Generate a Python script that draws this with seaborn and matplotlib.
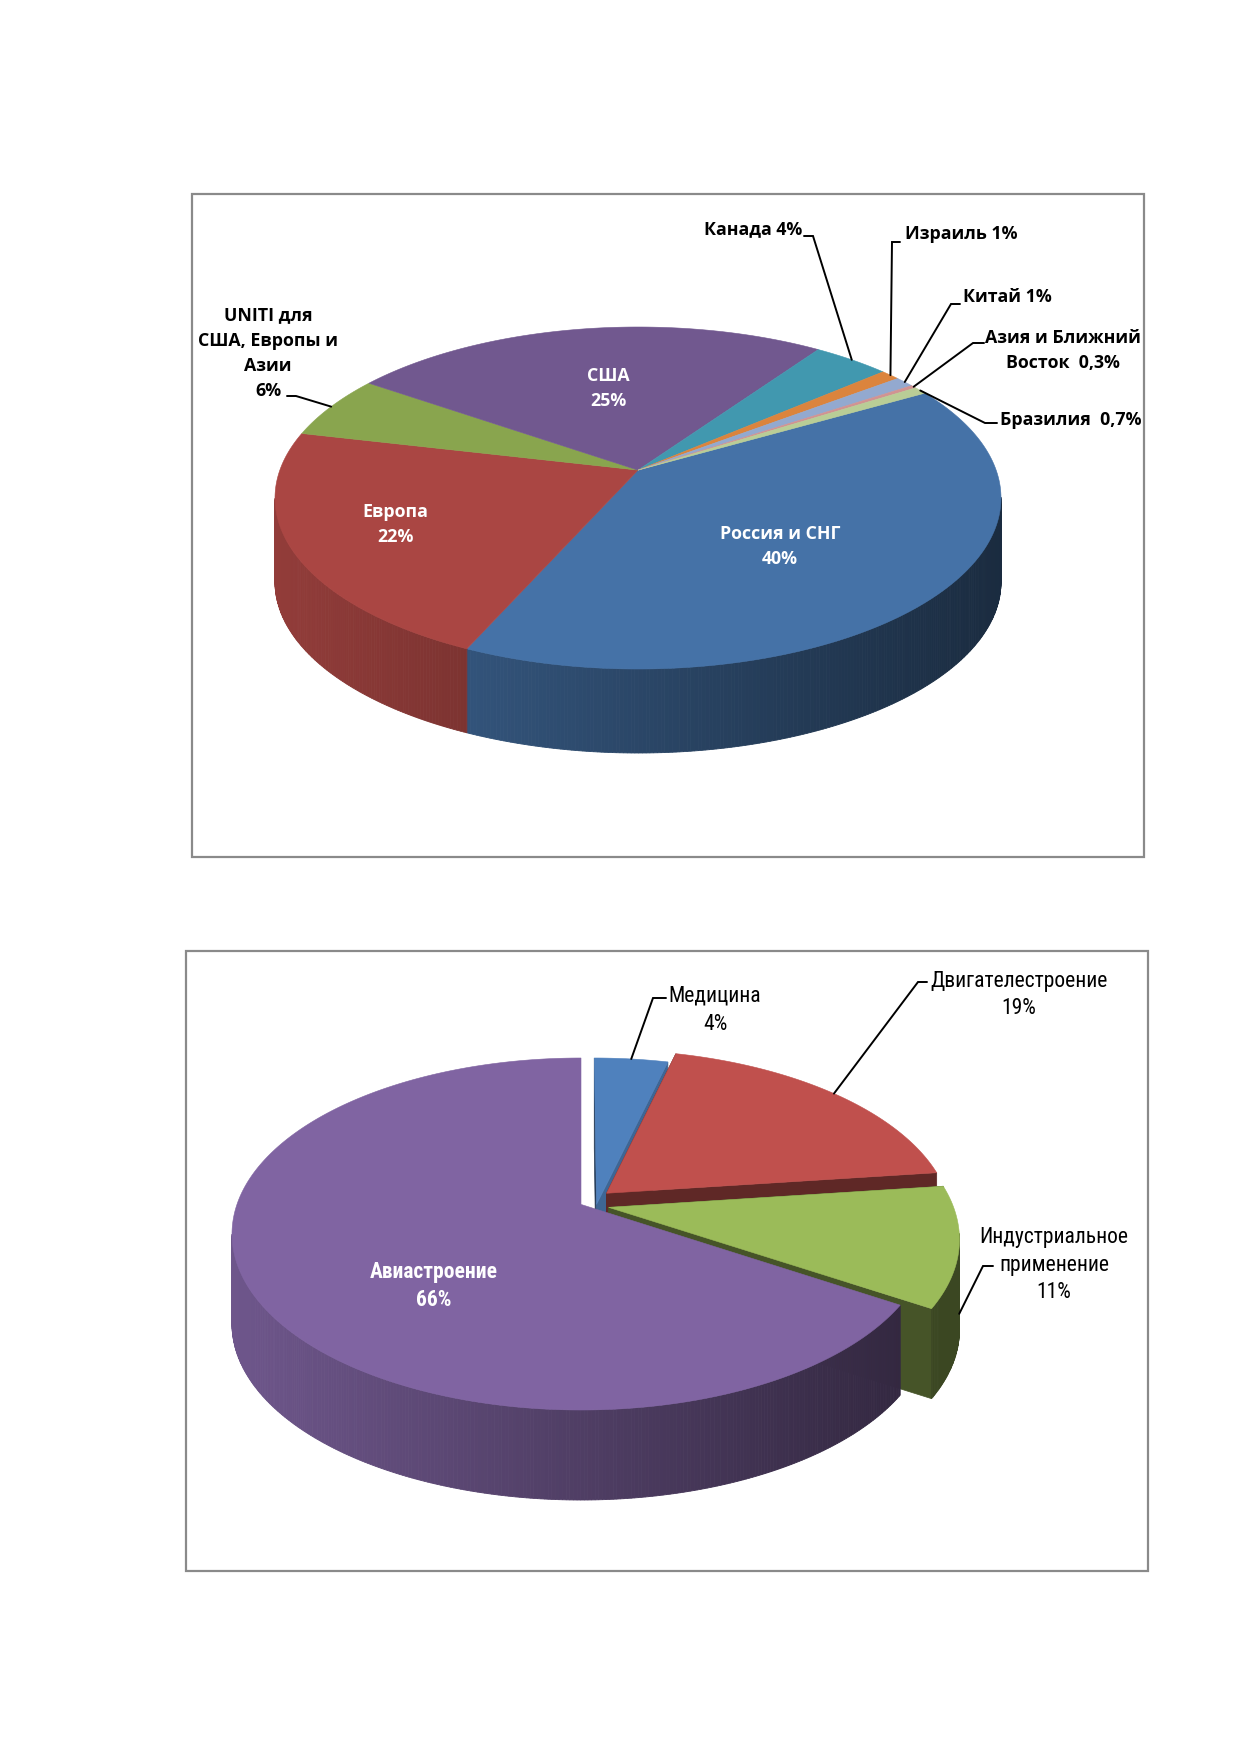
import numpy as np
import matplotlib
matplotlib.use("Agg")
import matplotlib.pyplot as plt
import matplotlib.colors as mcolors
from matplotlib.patches import Polygon, Rectangle
import seaborn as sns

sns.set_theme(style="white")
plt.rcParams['font.family'] = ['Open Sans', 'DejaVu Sans']

# --- chart 1: geography of sales ---
top_names = ["Россия и СНГ", "Европа", "UNITI для США, Европы и Азии", "США",
             "Канада", "Израиль", "Китай", "Азия и Ближний Восток", "Бразилия"]
top_values = [40, 22, 6, 25, 4, 1, 1, 0.3, 0.7]
top_labels = ["Россия и СНГ\n40%", "Европа\n22%", "UNITI для\nСША, Европы и\nАзии\n6%",
              "США\n25%", "Канада 4%", "Израиль 1%", "Китай 1%",
              "Азия и Ближний\nВосток  0,3%", "Бразилия  0,7%"]
top_colors = ["#4572A7", "#AA4643", "#89A54E", "#71588F", "#4198AF",
              "#DB843D", "#93A9CF", "#D19392", "#B9CD96"]

# --- chart 2: industries ---
bot_names = ["Медицина", "Двигателестроение", "Индустриальное применение", "Авиастроение"]
bot_values = [4, 19, 11, 66]
bot_labels = ["Медицина\n4%", "Двигателестроение\n19%",
              "Индустриальное\nприменение\n11%", "Авиастроение\n66%"]
bot_colors = ["#4F81BD", "#C0504D", "#9BBB59", "#8064A2"]
# how far each slice is pulled out (in pie radii, across / into the page)
bot_pull = [(0.045, 0.0), (0.075, 0.066), (0.08, -0.017), (0.0, 0.0)]

W, H = 1239, 1752
fig = plt.figure(figsize=(W / 100, H / 100), dpi=100)
ax = fig.add_axes([0, 0, 1, 1])
ax.set_xlim(0, W)
ax.set_ylim(H, 0)
ax.axis("off")


def shade(c, f):
    r, g, b = mcolors.to_rgb(c)
    return (r * f, g * f, b * f)


def proj(u, v, g, down=0.0):
    # simple perspective: disk (u, v) -> screen, v = +1 is the back
    k = g["k"]
    w = 1 + k * v
    x = np.sqrt(1 - k * k) * u / w
    y = (v + k) / w
    return g["cx"] + g["rx"] * x, g["cy"] - g["ry"] * y + down


def draw_pie3d(values, colors, g, pull=None):
    vals = np.asarray(values, float)
    if pull is None:
        pull = [(0, 0)] * len(vals)
    edges = g["start"] + 360 * np.concatenate([[0], np.cumsum(vals)]) / vals.sum()
    anchors = []
    for i, c in enumerate(colors):
        a0, a1 = edges[i], edges[i + 1]
        am = np.radians((a0 + a1) / 2)
        ou, ov = pull[i]
        d = g["depth"]
        arc = np.radians(np.linspace(a0, a1, max(3, int((a1 - a0) * 2))))
        # radial faces (only visible when a slice is pulled out)
        if ou != 0 or ov != 0:
            for a, sgn in ((np.radians(a0), -1), (np.radians(a1), 1)):
                nu = sgn * np.cos(a)
                f = 0.45 + 0.35 * max(0, nu)
                p0 = proj(ou, ov, g)
                p1 = proj(ou + np.sin(a), ov + np.cos(a), g)
                pts = [p0, p1, (p1[0], p1[1] + d), (p0[0], p0[1] + d)]
                ax.add_patch(Polygon(pts, closed=True, fc=shade(c, f), ec=shade(c, f), lw=0.5))
        # outer wall, front part only, with left-to-right shading
        for s0, s1 in zip(arc[:-1], arc[1:]):
            sm = (s0 + s1) / 2
            if ov + np.cos(sm) >= -g["k"]:
                continue
            t0 = proj(ou + np.sin(s0), ov + np.cos(s0), g)
            t1 = proj(ou + np.sin(s1), ov + np.cos(s1), g)
            t = (0.5 * (t0[0] + t1[0]) - (g["cx"] - g["rx"])) / (2 * g["rx"])
            f = 0.86 - 0.48 * np.clip(t, 0, 1)
            pts = [t0, t1, (t1[0], t1[1] + d), (t0[0], t0[1] + d)]
            ax.add_patch(Polygon(pts, closed=True, fc=shade(c, f), ec=shade(c, f), lw=0.6))
        # top face
        xs, ys = proj(ou + np.sin(arc), ov + np.cos(arc), g)
        cx0, cy0 = proj(ou, ov, g)
        top = np.column_stack([np.r_[cx0, xs], np.r_[cy0, ys]])
        ax.add_patch(Polygon(top, closed=True, fc=c, ec=c, lw=0.4))
        # leader anchor at mid-angle edge
        ex, ey = proj(ou + np.sin(am), ov + np.cos(am), g)
        if ov + np.cos(am) < -g["k"]:
            ey += 0.75 * d
        anchors.append((ex, ey))
    return anchors


def put_text(x, y, text, step, ha="center", **kw):
    for j, line in enumerate(text.split("\n")):
        ax.text(x, y + j * step, line, ha=ha, va="center", **kw)


def leader(start, knee, end):
    ax.plot([start[0], knee[0], end[0]], [start[1], knee[1], end[1]],
            color="black", lw=1.4, solid_joinstyle="miter")


# frames
ax.add_patch(Rectangle((192, 194), 952, 663, fill=False, ec="#8a8a8a", lw=1.6))
ax.add_patch(Rectangle((186, 951), 962, 620, fill=False, ec="#8a8a8a", lw=1.6))

g1 = dict(cx=638, cy=498, rx=363, ry=171, k=0.163, depth=84, start=60)
anc1 = draw_pie3d(top_values, top_colors, g1)

# label position (x, first line y, ha, colour), leader start and knee
top_pos = [(780, 534, "center", "white"), (395, 512, "center", "white"),
           (268, 315, "center", "black"), (608, 376, "center", "white"),
           (802, 229, "right", "black"), (905, 234, "left", "black"),
           (963, 297, "left", "black"), (1063, 338, "center", "black"),
           (1000, 420, "left", "black")]
top_lead = {2: ((287, 396), (296, 396)), 4: ((804, 236), (813, 236)),
            5: ((900, 242), (892, 242)), 6: ((960, 304), (951, 304)),
            7: ((984, 343), (973, 343)), 8: ((997, 423), (985, 423))}
for i, lab in enumerate(top_labels):
    x, y, ha, col = top_pos[i]
    put_text(x, y, lab, 25.5, ha=ha, color=col, fontsize=12.8, fontweight="bold")
    if i in top_lead:
        s, kn = top_lead[i]
        leader(s, kn, anc1[i])

g2 = dict(cx=581, cy=1234, rx=349, ry=176, k=0.168, depth=90, start=0)
anc2 = draw_pie3d(bot_values, bot_colors, g2, pull=bot_pull)

narrow = ['Liberation Sans Narrow', 'Roboto Condensed', 'Open Sans', 'DejaVu Sans']
bot_pos = [(715, 996, "center", "black"), (1019, 981, "center", "black"),
           (1054, 1237, "center", "black"), (434, 1272, "center", "white")]
bot_lead = {0: ((666, 998), (653, 998)), 1: ((927, 982), (918, 982)),
            2: ((993, 1266), (983, 1266))}
for i, lab in enumerate(bot_labels):
    x, y, ha, col = bot_pos[i]
    wt = "bold" if col == "white" else "normal"
    put_text(x, y, lab, 28, ha=ha, color=col, fontsize=15.5, fontweight=wt, family=narrow)
    if i in bot_lead:
        s, kn = bot_lead[i]
        leader(s, kn, anc2[i])

fig.savefig("out.png", dpi=100, facecolor="white")
